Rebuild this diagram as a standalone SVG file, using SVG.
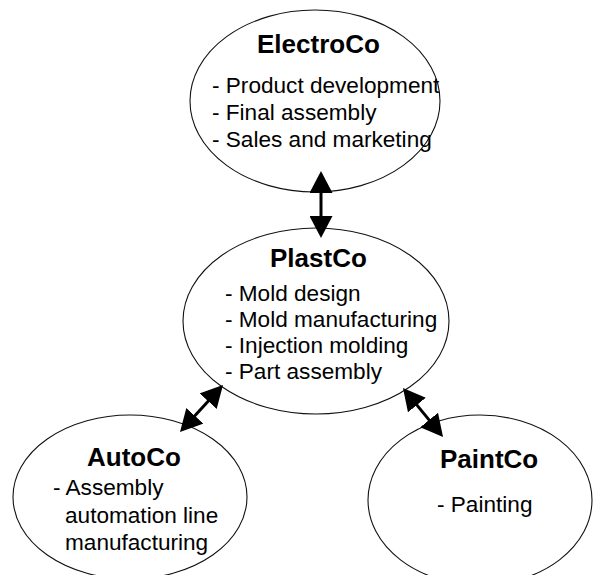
<svg xmlns="http://www.w3.org/2000/svg" width="594" height="575" viewBox="0 0 594 575">
  <style>
    .bubble { fill: #ffffff; stroke: #111111; stroke-width: 1.1; }
    .title { font-family: "Liberation Sans", Arial, sans-serif; font-size: 26px; font-weight: bold; fill: #000000; }
    .item { font-family: "Liberation Sans", Arial, sans-serif; font-size: 22.6px; fill: #000000; }
    .link { fill: none; stroke: #000000; stroke-width: 3; marker-start: url(#head); marker-end: url(#head); }
  </style>
  <defs>
    <marker id="head" markerUnits="userSpaceOnUse" markerWidth="22" markerHeight="23" refX="18" refY="11.5" orient="auto-start-reverse" viewBox="0 0 22 23">
      <path d="M0,0 L22,11.5 L0,23 z" fill="#000000"/>
    </marker>
  </defs>

  <rect width="594" height="575" fill="#ffffff"/>

  <g id="electroco">
    <ellipse class="bubble" cx="315" cy="101" rx="125" ry="91"/>
    <text class="title" x="257" y="53">ElectroCo</text>
    <text class="item" x="212" y="93">- Product development</text>
    <text class="item" x="212" y="120">- Final assembly</text>
    <text class="item" x="212" y="147">- Sales and marketing</text>
  </g>

  <g id="plastco">
    <ellipse class="bubble" cx="316" cy="321" rx="133" ry="93"/>
    <text class="title" x="270" y="267">PlastCo</text>
    <text class="item" x="225" y="301">- Mold design</text>
    <text class="item" x="225" y="327">- Mold manufacturing</text>
    <text class="item" x="225" y="353">- Injection molding</text>
    <text class="item" x="225" y="379">- Part assembly</text>
  </g>

  <g id="autoco">
    <ellipse class="bubble" cx="130" cy="497" rx="117" ry="82"/>
    <text class="title" x="87" y="466">AutoCo</text>
    <text class="item" x="53" y="495">- Assembly</text>
    <text class="item" x="65" y="523">automation line</text>
    <text class="item" x="65" y="550">manufacturing</text>
  </g>

  <g id="paintco">
    <ellipse class="bubble" cx="480" cy="500" rx="112" ry="85"/>
    <text class="title" x="440" y="468">PaintCo</text>
    <text class="item" x="437" y="512">- Painting</text>
  </g>

  <g id="connectors">
    <path class="link" d="M321,175 L321,234"/>
    <path class="link" d="M220.3,387.9 L182.7,429.1"/>
    <path class="link" d="M405.5,391.1 L440.5,433.9"/>
  </g>
</svg>
